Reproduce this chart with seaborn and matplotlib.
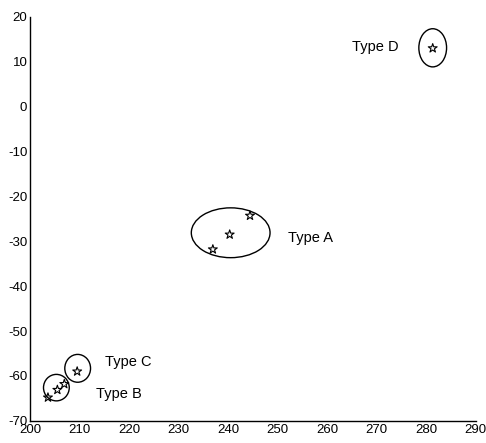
import matplotlib
matplotlib.use("Agg")
import matplotlib.pyplot as plt
from matplotlib.patches import Ellipse
import seaborn as sns
import pandas as pd

# Data points (stars)
types = ["A", "A", "A", "B", "B", "B", "C", "D"]
x_vals = [244.4, 240.3, 236.9, 203.6, 205.5, 206.9, 209.5, 281.3]
y_vals = [-24.3, -28.5, -31.8, -64.8, -63.1, -61.8, -59.0, 13.0]

# Cluster ellipses: centre x, centre y, width, height
ell_labels = ["Type A", "Type B", "Type C", "Type D"]
ell_cx = [240.5, 205.3, 209.6, 281.3]
ell_cy = [-28.1, -62.6, -58.3, 13.1]
ell_w = [15.9, 5.2, 5.2, 5.6]
ell_h = [11.1, 5.9, 6.2, 8.5]

# Label positions
lab_x = [252.0, 213.3, 215.1, 264.9]
lab_y = [-29.2, -64.0, -57.0, 13.3]

xticks = list(range(200, 291, 10))
yticks = list(range(-70, 21, 10))

sns.set_style("white")
plt.rcParams["font.family"] = ["Liberation Sans", "DejaVu Sans"]
plt.rcParams["axes.unicode_minus"] = False

df = pd.DataFrame({"x": x_vals, "y": y_vals, "type": types})

fig = plt.figure(figsize=(4.86, 4.43), dpi=100)
ax = fig.add_axes([0.062, 0.05, 0.917, 0.912])

sns.scatterplot(data=df, x="x", y="y", marker="*", s=45,
                facecolor="none", edgecolor="black", linewidth=0.8, ax=ax)

for lab, cx, cy, w, h, tx, ty in zip(ell_labels, ell_cx, ell_cy, ell_w, ell_h, lab_x, lab_y):
    ax.add_patch(Ellipse((cx, cy), w, h, fill=False, edgecolor="black", linewidth=1.0))
    ax.text(tx, ty, lab, fontsize=10.5, va="center", ha="left", color="black")

ax.set_xlim(200, 290)
ax.set_ylim(-70, 20)
ax.set_xticks(xticks)
ax.set_yticks(yticks)
ax.tick_params(direction="in", length=4, labelsize=9.5, colors="black", pad=2)
ax.set_xlabel("")
ax.set_ylabel("")
for s in ["top", "right"]:
    ax.spines[s].set_visible(False)
for s in ["left", "bottom"]:
    ax.spines[s].set_color("black")
    ax.spines[s].set_linewidth(1.0)

fig.savefig("out.png", dpi=100)
